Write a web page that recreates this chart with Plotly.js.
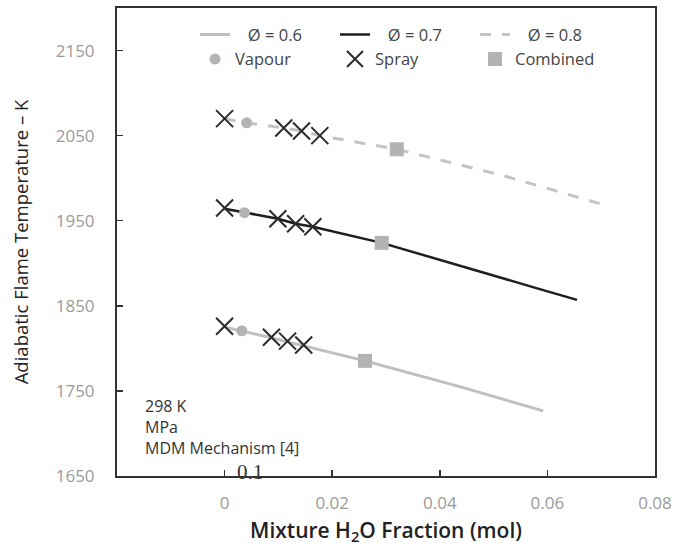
<!DOCTYPE html>
<html>
<head>
<meta charset="utf-8">
<script src="https://cdn.plot.ly/plotly-3.0.1.min.js"></script>
<style>html,body{margin:0;padding:0;background:#fff;}#chart{width:676px;height:546px;}</style>
</head>
<body>
<div id="chart"></div>
<script>
// Curves (mixture H2O fraction, adiabatic flame temperature K)
var phi06_x = [0, 0.0032, 0.0087, 0.0117, 0.0147, 0.0261, 0.0437, 0.0592];
var phi06_T = [1825, 1820.6, 1812.4, 1807.6, 1803, 1785.3, 1755, 1726.5];
var phi07_x = [0, 0.0037, 0.0099, 0.0132, 0.0164, 0.0292, 0.0413, 0.0493, 0.0573, 0.0655];
var phi07_T = [1964, 1959.4, 1952.4, 1946.5, 1943, 1924, 1902, 1887, 1872, 1857];
var phi08_x = [0, 0.0041, 0.011, 0.0143, 0.0177, 0.032, 0.0413, 0.0512, 0.06, 0.0703];
var phi08_T = [2070, 2065, 2059, 2055.5, 2050, 2034, 2019.5, 2004, 1988, 1969];

// Markers
var vapour_x = [0.0032, 0.0037, 0.0041];
var vapour_T = [1820.6, 1959.4, 2065];
var spray_x = [0, 0.0087, 0.0117, 0.0147, 0, 0.0099, 0.0132, 0.0164, 0, 0.011, 0.0143, 0.0177];
var spray_T = [1826, 1813, 1808.5, 1804, 1965, 1952.4, 1946.5, 1943, 2070, 2059, 2055.5, 2050];
var combined_x = [0.0261, 0.0292, 0.032];
var combined_T = [1785.3, 1924, 2034];

var xTicks = [0, 0.02, 0.04, 0.06, 0.08];
var xTickLabels = ['0', '0.02', '0.04', '0.06', '0.08'];
var yTicks = [1650, 1750, 1850, 1950, 2050, 2150];
var yTickLabels = ['1650', '1750', '1850', '1950', '2050', '2150'];

var pad = '\u00a0\u00a0\u00a0';
var traces = [
  {x: phi06_x, y: phi06_T, mode: 'lines', name: pad + 'Ø = 0.6', line: {color: '#bfbfbf', width: 3}},
  {x: phi07_x, y: phi07_T, mode: 'lines', name: pad + 'Ø = 0.7', line: {color: '#1e1e1e', width: 2.5}},
  {x: phi08_x, y: phi08_T, mode: 'lines', name: pad + 'Ø = 0.8', line: {color: '#c4c4c4', width: 3, dash: '11px,11px'}},
  {x: vapour_x, y: vapour_T, mode: 'markers', name: 'Vapour', marker: {symbol: 'circle', color: '#b3b3b3', size: 11}},
  {x: spray_x, y: spray_T, mode: 'markers', name: 'Spray', marker: {symbol: 'x-thin-open', color: '#2a2a2a', size: 17, line: {color: '#2a2a2a', width: 2}}},
  {x: combined_x, y: combined_T, mode: 'markers', name: 'Combined', marker: {symbol: 'square', color: '#b3b3b3', size: 14}}
];

function py(p) { return (476 - p) / 468; }
function px(p) { return (p - 117) / 538; }

var layout = {
  width: 676, height: 546,
  margin: {l: 117, r: 21, t: 8, b: 70},
  paper_bgcolor: '#fff', plot_bgcolor: '#fff',
  font: {family: 'Open Sans, sans-serif', color: '#444'},
  showlegend: true,
  legend: {
    orientation: 'h', x: 0.145, xanchor: 'left', y: 0.98, yanchor: 'top',
    entrywidth: 95, font: {size: 16.5, color: '#444'}, bgcolor: 'rgba(0,0,0,0)'
  },
  xaxis: {
    range: [-0.02, 0.08], tickvals: xTicks, ticktext: xTickLabels,
    ticks: 'inside', ticklen: 6, tickwidth: 1.5, tickcolor: '#333',
    showline: true, linecolor: '#333', linewidth: 2, mirror: true,
    showgrid: false, zeroline: false,
    tickfont: {size: 17, color: '#9a9a9a'}, ticklabelstandoff: 11,
    title: {text: 'Mixture H<sub>2</sub>O Fraction (mol)', font: {size: 21, color: '#222', weight: 600}, standoff: 14}
  },
  yaxis: {
    range: [1650, 2200], tickvals: yTicks, ticktext: yTickLabels,
    ticks: 'inside', ticklen: 6, tickwidth: 1.5, tickcolor: '#333',
    showline: true, linecolor: '#333', linewidth: 2, mirror: true,
    showgrid: false, zeroline: false,
    tickfont: {size: 17, color: '#9a9a9a'}, ticklabelstandoff: 17,
    title: {text: 'Adiabatic Flame Temperature – K', font: {size: 18.5, color: '#222', weight: 500}, standoff: 22}
  },
  annotations: [
    {xref: 'paper', yref: 'paper', x: px(143), y: py(427), xanchor: 'left', yanchor: 'middle', align: 'left',
     showarrow: false, text: '298 K<br>MPa<br>MDM Mechanism [4]', font: {size: 16, color: '#333'}},
    {xref: 'paper', yref: 'paper', x: px(250), y: py(472), xanchor: 'center', yanchor: 'middle',
     showarrow: false, text: '0.1', font: {family: 'Liberation Serif, serif', size: 21, color: '#333'}}
  ]
};

Plotly.newPlot('chart', traces, layout, {displayModeBar: false, staticPlot: true});
</script>
</body>
</html>
